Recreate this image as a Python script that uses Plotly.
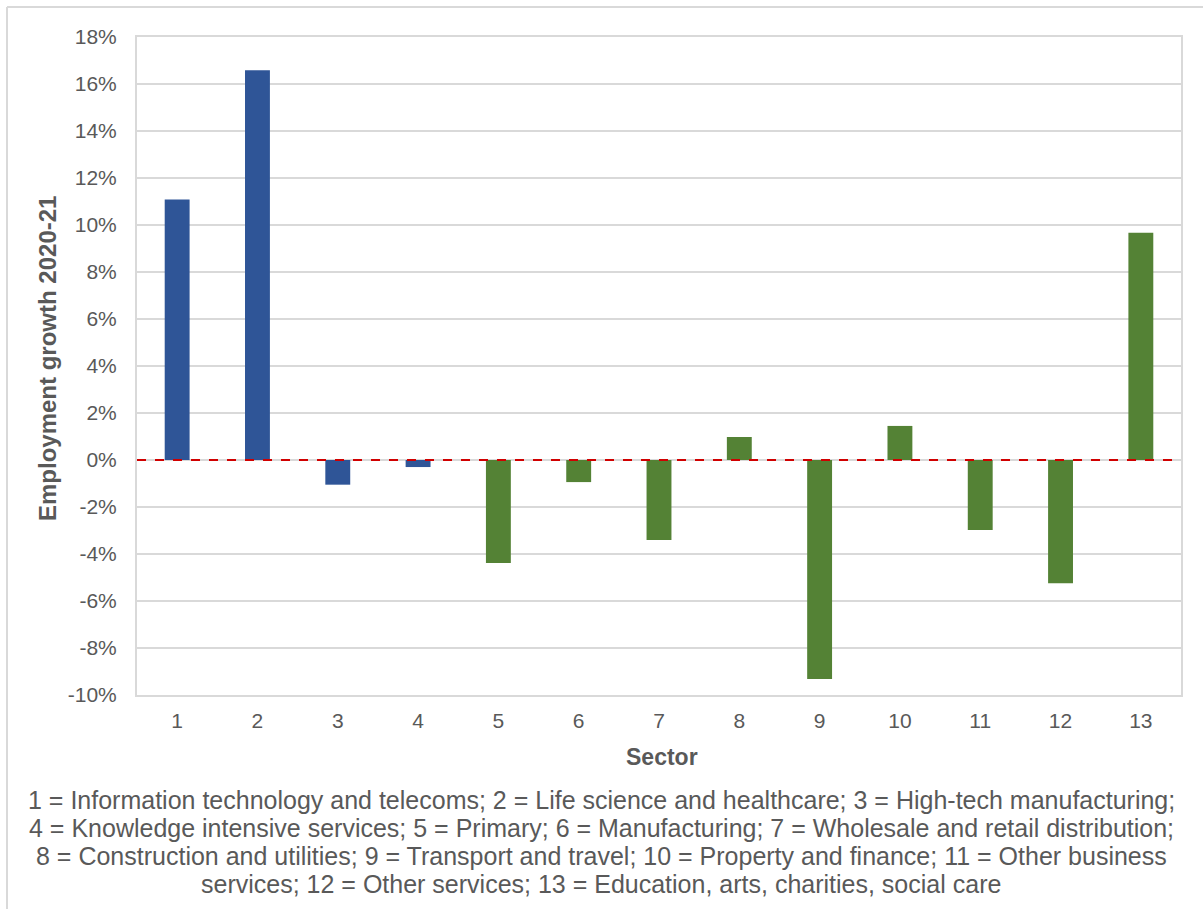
import plotly.graph_objects as go

sectors = [str(i) for i in range(1, 14)]
growth = [11.08, 16.58, -1.05, -0.3, -4.38, -0.94, -3.4, 0.98, -9.32, 1.45, -2.98, -5.24, 9.67]
colors = ["#2F5597"] * 4 + ["#548235"] * 9
yticks = list(range(-10, 19, 2))
ytick_text = [f"{v}%" for v in yticks]

footnote_lines = [
    "1 = Information technology and telecoms; 2 = Life science and healthcare; 3 = High-tech manufacturing;",
    "4 = Knowledge intensive services; 5 = Primary; 6 = Manufacturing; 7 = Wholesale and retail distribution;",
    "8 = Construction and utilities; 9 = Transport and travel; 10 = Property and finance; 11 = Other business",
    "services; 12 = Other services; 13 = Education, arts, charities, social care",
]

font_family = "Liberation Sans, Arial, sans-serif"
grey = "#595959"

PLOT_L, PLOT_R, PLOT_T, PLOT_B = 137, 1181, 37, 695
PW, PH = PLOT_R - PLOT_L, PLOT_B - PLOT_T


def px_x(x):
    return (x - PLOT_L) / PW


def px_y(y):
    return (PLOT_B - y) / PH


fig = go.Figure()
fig.add_trace(go.Bar(x=sectors, y=growth, marker=dict(color=colors, line=dict(width=0)), showlegend=False))

fig.add_shape(type="line", xref="paper", yref="y", x0=0, x1=1, y0=0, y1=0,
              line=dict(color="#D00000", width=2, dash="dash"), layer="above")

# outer chart border (left and top)
fig.add_shape(type="line", xref="paper", yref="paper", x0=px_x(7), x1=px_x(7), y0=px_y(7), y1=px_y(915),
              line=dict(color="#D9D9D9", width=2))
fig.add_shape(type="line", xref="paper", yref="paper", x0=px_x(7), x1=px_x(1210), y0=px_y(7), y1=px_y(7),
              line=dict(color="#D9D9D9", width=2))

annotations = [
    dict(text="<b>Employment growth 2020-21</b>", xref="paper", yref="paper", x=px_x(47), y=px_y(359),
         textangle=-90, showarrow=False, font=dict(size=24, color=grey), xanchor="center", yanchor="middle"),
    dict(text="<b>Sector</b>", xref="paper", yref="paper", x=px_x(662), y=px_y(757), showarrow=False,
         font=dict(size=23, color=grey), xanchor="center", yanchor="middle"),
]
for i, line in enumerate(footnote_lines):
    annotations.append(dict(text=line, xref="paper", yref="paper", x=px_x(601), y=px_y(800 + 28 * i),
                            showarrow=False, font=dict(size=25, color=grey), xanchor="center", yanchor="middle"))

fig.update_layout(
    width=1203, height=909,
    margin=dict(l=PLOT_L, r=1203 - PLOT_R, t=PLOT_T, b=909 - PLOT_B),
    paper_bgcolor="white", plot_bgcolor="white",
    bargap=0.69,
    font=dict(family=font_family, color=grey, size=21),
    xaxis=dict(type="category", showgrid=False, showline=True, linecolor="#D9D9D9", linewidth=2,
               mirror=True, ticks="", tickfont=dict(size=21, color=grey), ticklabelstandoff=6),
    yaxis=dict(range=[-10, 18], tickvals=yticks, ticktext=ytick_text, showgrid=True,
               gridcolor="#D9D9D9", gridwidth=1.5, zeroline=False, showline=True,
               linecolor="#D9D9D9", linewidth=2, mirror=True, ticks="",
               tickfont=dict(size=21, color=grey), ticklabelstandoff=14),
    annotations=annotations,
)

fig.write_html("out.html")
